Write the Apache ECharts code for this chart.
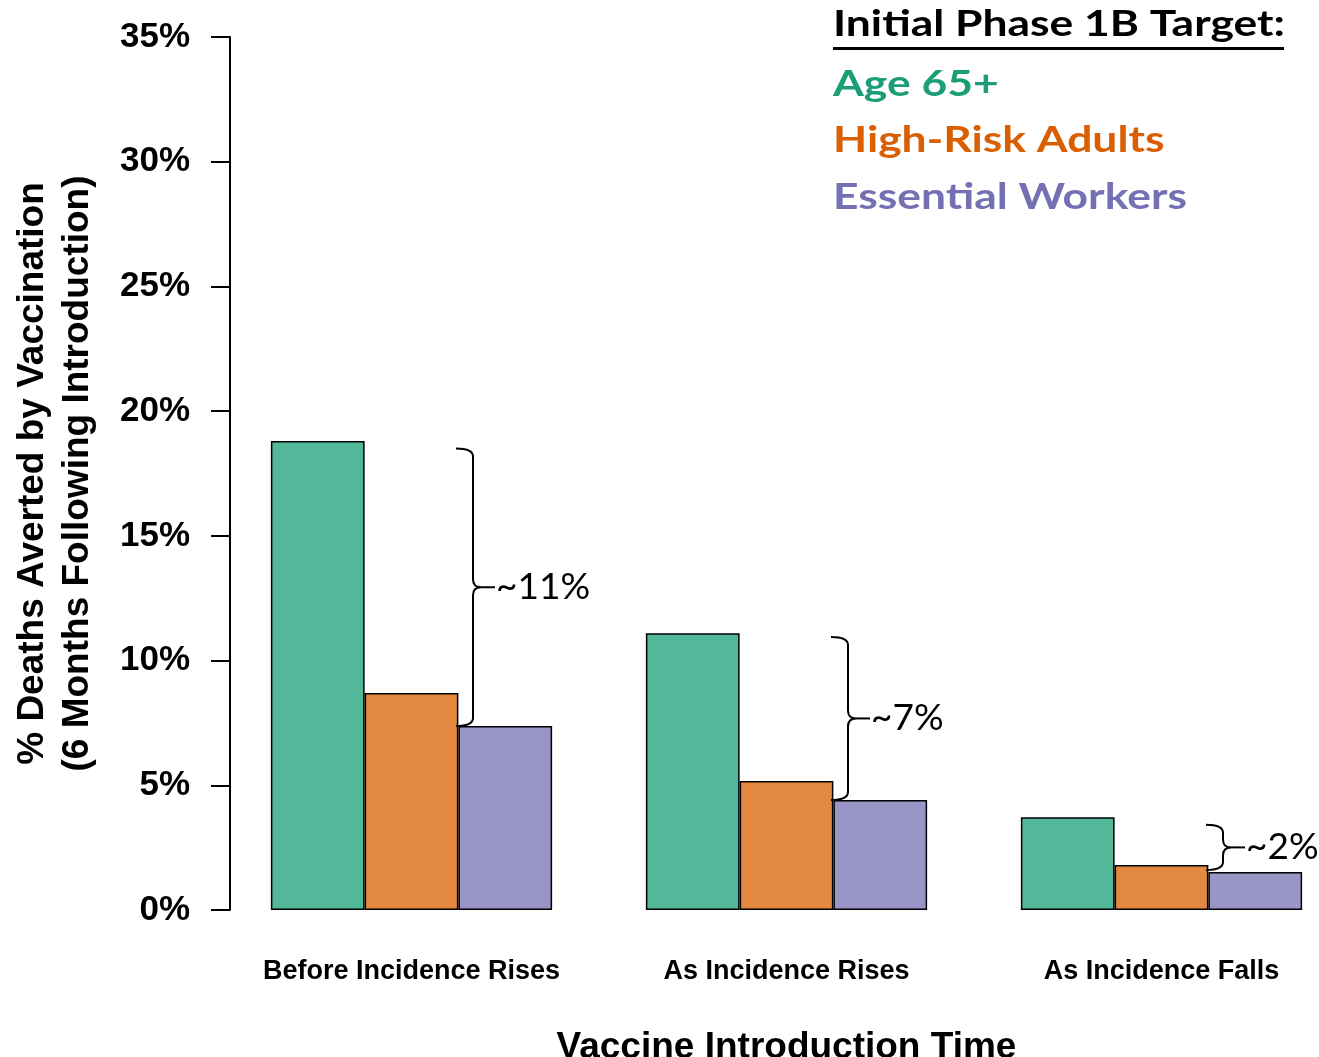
<!DOCTYPE html>
<html>
<head>
<meta charset="utf-8">
<script src="https://cdn.jsdelivr.net/npm/echarts@6/dist/echarts.min.js"></script>
<style>
  html, body { margin: 0; padding: 0; background: #fff; }
  #chart { width: 1319px; height: 1057px; }
</style>
</head>
<body>
<div id="chart"></div>
<script>
const categories = ['Before Incidence Rises', 'As Incidence Rises', 'As Incidence Falls'];
const age65 = [18.8, 11.1, 3.72];
const highRisk = [8.7, 5.17, 1.8];
const essential = [7.38, 4.41, 1.52];

// brace annotations: [category index, top, bottom, label]
const braceTop = [18.5, 10.95, 3.42];
const braceBottom = [7.38, 4.41, 1.6];
const braceLabels = ['~11%', '~7%', '~2%'];

const barColors = ['#53b799', '#e48942', '#9a95c7'];
const textColors = ['#1b9e77', '#d95f02', '#7570b3'];
const seriesNames = ['Age 65+', 'High-Risk Adults', 'Essential Workers'];

const axisFont = 'Liberation Sans';
const noteFont = 'Lato';

var myChart = echarts.init(document.getElementById('chart'));

let braceData = braceTop.map((t, i) => [i, t, braceBottom[i], braceLabels[i]]);

function renderBrace(params, api) {
    let top = api.coord([api.value(0), api.value(1)]);
    let bottom = api.coord([api.value(0), api.value(2)]);
    let band = api.size([1, 0])[0];
    let x = top[0] + band * 0.164;
    let y1 = top[1];
    let y2 = bottom[1];
    let mid = (y1 + y2) / 2;
    let r = Math.min(8, (y2 - y1) / 4);
    let path = 'M' + (x - 17) + ' ' + y1 +
        ' Q' + x + ' ' + y1 + ' ' + x + ' ' + (y1 + r) +
        ' L' + x + ' ' + (mid - r) +
        ' Q' + x + ' ' + mid + ' ' + (x + r) + ' ' + mid +
        ' Q' + x + ' ' + mid + ' ' + x + ' ' + (mid + r) +
        ' L' + x + ' ' + (y2 - r) +
        ' Q' + x + ' ' + y2 + ' ' + (x - 17) + ' ' + y2;
    return {
        type: 'group',
        children: [
            {
                type: 'path',
                shape: { pathData: path },
                style: { fill: 'none', stroke: '#000', lineWidth: 2 }
            },
            {
                type: 'line',
                shape: { x1: x + r, y1: mid, x2: x + 22, y2: mid },
                style: { stroke: '#000', lineWidth: 2 }
            },
            {
                type: 'text',
                x: x + 23,
                y: mid,
                style: {
                    text: api.value(3),
                    fontFamily: noteFont,
                    fontSize: 37,
                    fill: '#000',
                    verticalAlign: 'middle',
                    align: 'left'
                }
            }
        ]
    };
}

let barSeries = [age65, highRisk, essential].map((arr, i) => ({
    name: seriesNames[i],
    type: 'bar',
    data: arr,
    barGap: 0,
    barCategoryGap: '25%',
    itemStyle: {
        color: barColors[i],
        borderColor: '#000',
        borderWidth: 1.5
    },
    silent: true
}));

function legendText(text, y, color) {
    return {
        type: 'text',
        x: 833,
        y: y,
        scaleX: 1.2,
        style: {
            text: text,
            fontFamily: noteFont,
            fontWeight: 'bold',
            fontSize: 37,
            fill: color,
            verticalAlign: 'top'
        }
    };
}

var option = {
    animation: false,
    grid: {
        left: 224,
        right: -30,
        top: 37,
        bottom: 147,
        outerBoundsMode: 'none',
        containLabel: false
    },
    xAxis: {
        type: 'category',
        data: categories,
        name: 'Vaccine Introduction Time',
        nameLocation: 'middle',
        nameGap: 119,
        nameTextStyle: {
            fontFamily: axisFont,
            fontWeight: 'bold',
            fontSize: 37,
            color: '#000'
        },
        axisLine: { show: false },
        axisTick: { show: false },
        axisLabel: {
            interval: 0,
            margin: 48,
            fontFamily: axisFont,
            fontWeight: 'bold',
            fontSize: 27,
            color: '#000'
        }
    },
    yAxis: {
        type: 'value',
        min: 0,
        max: 35,
        interval: 5,
        offset: -6,
        name: '% Deaths Averted by Vaccination\n(6 Months Following Introduction)',
        nameLocation: 'middle',
        nameRotate: 90,
        nameGap: 130,
        nameTextStyle: {
            fontFamily: axisFont,
            fontWeight: 'bold',
            fontSize: 37,
            lineHeight: 45,
            color: '#000'
        },
        axisLine: { show: true, lineStyle: { color: '#000', width: 2 } },
        axisTick: { show: true, length: 19, lineStyle: { color: '#000', width: 2 } },
        splitLine: { show: false },
        axisLabel: {
            margin: 40,
            formatter: '{value}%',
            fontFamily: axisFont,
            fontWeight: 'bold',
            fontSize: 35,
            color: '#000'
        }
    },
    graphic: [
        legendText('Initial Phase 1B Target:', 6, '#000'),
        {
            type: 'rect', x: 833, y: 47,
            shape: { width: 451, height: 3 },
            style: { fill: '#000' }
        },
        legendText(seriesNames[0], 66, textColors[0]),
        legendText(seriesNames[1], 122, textColors[1]),
        legendText(seriesNames[2], 179, textColors[2])
    ],
    series: barSeries.concat([
        {
            type: 'custom',
            renderItem: renderBrace,
            data: braceData,
            silent: true,
            z: 5
        }
    ])
};

myChart.setOption(option);
</script>
</body>
</html>
